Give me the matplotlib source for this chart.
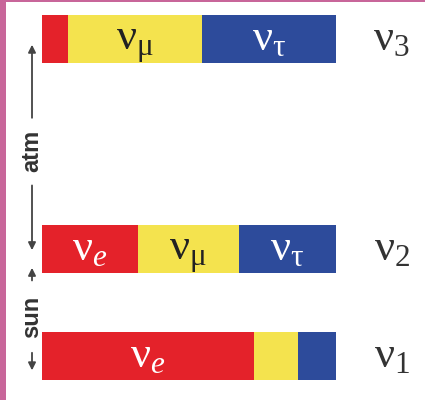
import matplotlib.pyplot as plt

plt.rcParams['mathtext.fontset'] = 'custom'
plt.rcParams['mathtext.rm'] = 'Liberation Serif'
plt.rcParams['mathtext.it'] = 'Liberation Serif:italic'

# mass states, bottom to top, and their flavour content
states = [r'$\mathrm{\nu}_{1}$', r'$\mathrm{\nu}_{2}$', r'$\mathrm{\nu}_{3}$']
frac_e = [0.72, 0.325, 0.09]
frac_mu = [0.15, 0.345, 0.455]
frac_tau = [0.13, 0.33, 0.455]
lab_e = [r'$\mathrm{\nu}_{e}$', r'$\mathrm{\nu}_{e}$', '']
lab_mu = ['', r'$\mathrm{\nu}_{\mathrm{\mu}}$', r'$\mathrm{\nu}_{\mathrm{\mu}}$']
lab_tau = ['', r'$\mathrm{\nu}_{\mathrm{\tau}}$', r'$\mathrm{\nu}_{\mathrm{\tau}}$']
row_pos = [0, 1, 2.96]

red = '#e4222a'
yellow = '#f4e34e'
blue = '#2d4b9b'

fig = plt.figure(figsize=(4.25, 4.0), dpi=100)
fig.patch.set_facecolor('#c8669a')
ax = fig.add_axes([6/425, 0, 419/425, 398/400])
ax.set_facecolor('white')
ax.set_xlim(-36/294, 383/294)
ax.set_ylim(-44/107, 354/107)
for s in ax.spines.values():
    s.set_visible(False)
ax.set_xticks([])
ax.set_yticks([])

h = 0.45
left = [0, 0, 0]
for fr, labs, col, tcol in [(frac_e, lab_e, red, 'white'),
                            (frac_mu, lab_mu, yellow, '#222222'),
                            (frac_tau, lab_tau, blue, 'white')]:
    ax.barh(row_pos, fr, left=left, height=h, color=col, edgecolor='none')
    for i in range(3):
        if labs[i]:
            ax.text(left[i] + fr[i] / 2, row_pos[i] - 0.1, labs[i], color=tcol,
                    fontsize=32, ha='center', va='baseline')
    left = [left[i] + fr[i] for i in range(3)]

for i in range(3):
    ax.text(1.19, row_pos[i] - 0.1, states[i], color='#333333', fontsize=32,
            ha='center', va='baseline')

# atm / sun arrows on the left
ax_x = -0.034
arr = dict(arrowstyle='-|>', color='#444444', lw=1.3, mutation_scale=11)
ax.annotate('', xy=(ax_x, 2.935), xytext=(ax_x, 2.2), arrowprops=arr)
ax.annotate('', xy=(ax_x, 0.963), xytext=(ax_x, 1.62), arrowprops=arr)
ax.annotate('', xy=(ax_x, 0.85), xytext=(ax_x, 0.68), arrowprops=arr)
ax.annotate('', xy=(ax_x, -0.16), xytext=(ax_x, 0.056), arrowprops=arr)
ax.text(ax_x, 1.92, 'atm', rotation=90, fontsize=17, color='#333333',
        family='Liberation Sans', weight='bold', ha='center', va='center')
ax.text(ax_x, 0.37, 'sun', rotation=90, fontsize=17, color='#333333',
        family='Liberation Sans', weight='bold', ha='center', va='center')

fig.savefig('out.png', dpi=100)
